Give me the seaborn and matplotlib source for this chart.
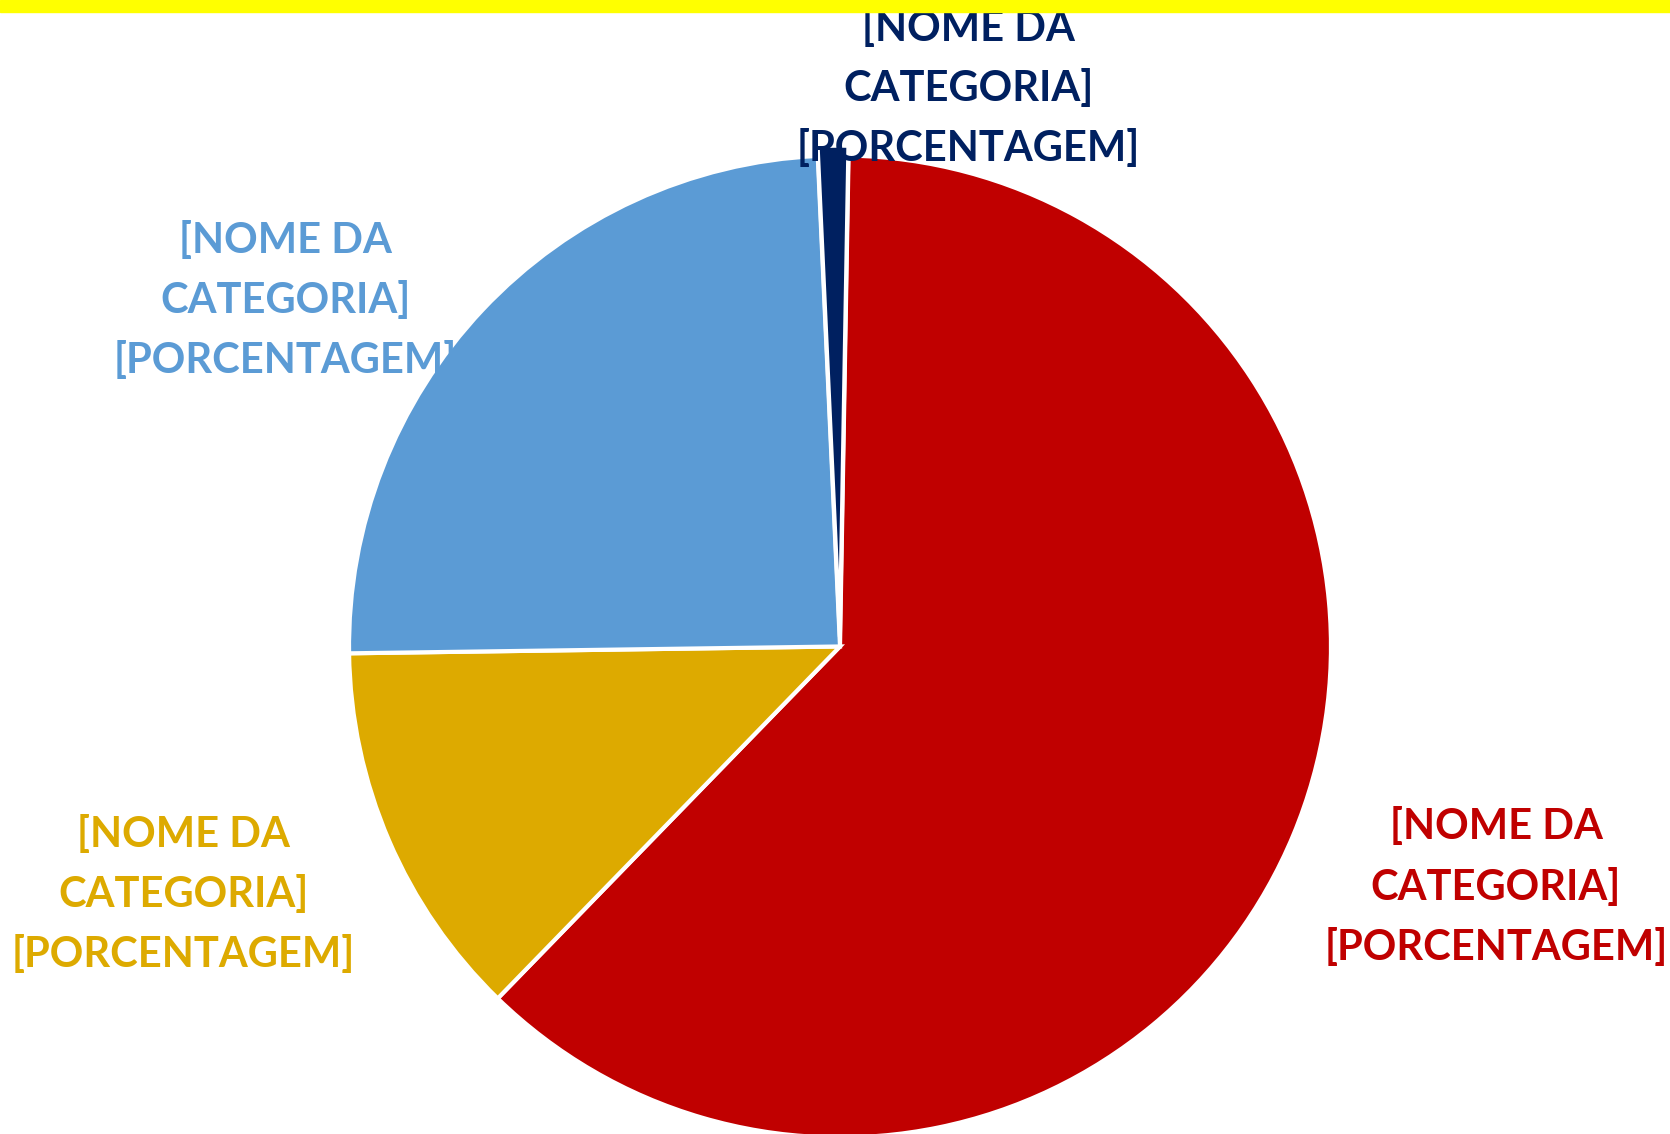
import matplotlib
matplotlib.use("Agg")
import matplotlib.pyplot as plt
from matplotlib.patches import Rectangle
import seaborn as sns

# Data (placeholder labels as in the template chart)
categories = ["Vermelho", "Amarelo", "Azul", "Marinho"]
shares = [62.0, 12.5, 24.5, 1.0]
label_text = "[NOME DA\nCATEGORIA]\n[PORCENTAGEM]"
colors = ["#C00000", "#DDAA00", "#5B9BD5", "#002060"]

sns.set_theme(style="white")
plt.rcParams["font.family"] = ["Lato", "DejaVu Sans"]

fig = plt.figure(figsize=(16.7, 11.34), dpi=100)
ax = fig.add_axes([0, 0, 1, 1])

wedges, _ = ax.pie(
    shares,
    colors=sns.color_palette(colors),
    startangle=89,
    counterclock=False,
    explode=[0, 0, 0, 0.02],
    wedgeprops={"edgecolor": "white", "linewidth": 3},
)

# label positions (data units, radius = 1)
label_pos = [(1.336, -0.490), (-1.338, -0.505), (-1.13, 0.705), (0.261, 1.137)]
for (x, y), c in zip(label_pos, colors):
    ax.text(x, y, label_text, color=c, ha="center", va="center",
            fontsize=30, fontweight="bold", linespacing=1.66)

ax.set_xlim(-1.7108, 1.6904)
ax.set_ylim(-0.993, 1.3167)
ax.set_aspect("equal")
ax.axis("off")

# yellow strip along the top
fig.patches.append(Rectangle((0, 0.989), 1, 0.011, transform=fig.transFigure,
                             color="#FFFF00", zorder=10))

fig.savefig("out.png", dpi=100)
